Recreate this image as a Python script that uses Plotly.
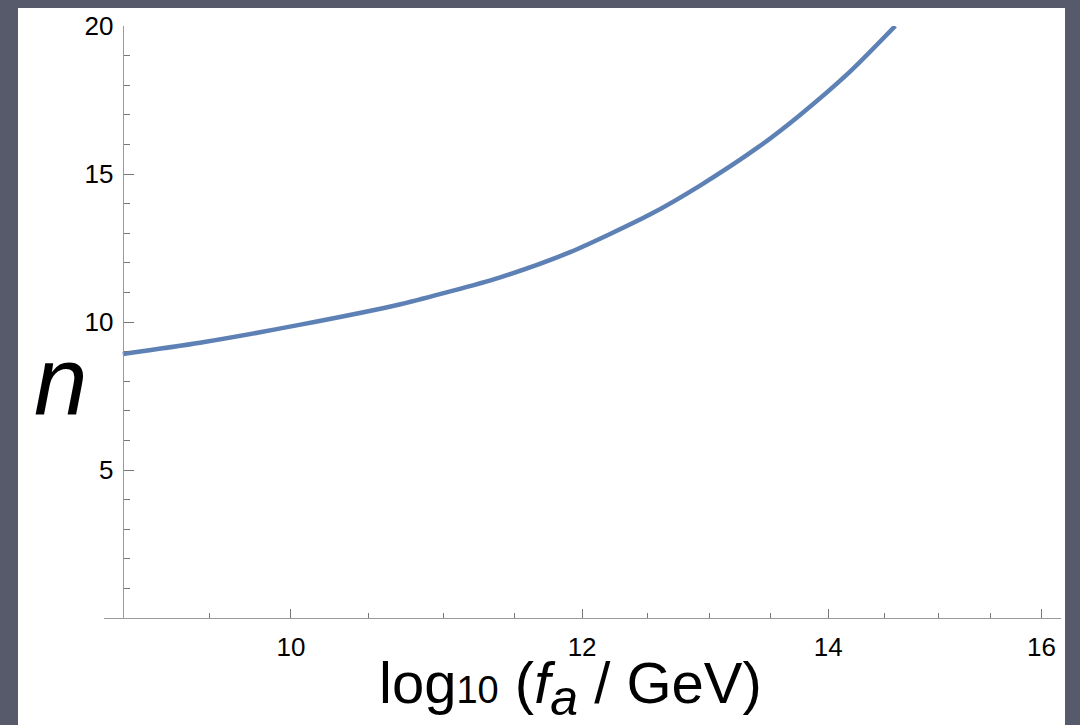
import plotly.graph_objects as go
import math

# ---- data ----
log_fa = [9.0, 9.446, 10.06, 10.71, 11.40, 11.91, 12.52, 12.92, 13.39, 13.75, 14.19, 14.60]
n_vals = [8.92, 9.30, 9.91, 10.60, 11.51, 12.36, 13.63, 14.61, 15.88, 16.98, 18.45, 20.0]

x_major = [10, 12, 14, 16]
x_minor = [9.5, 10.5, 11, 11.5, 12.5, 13, 13.5, 14.5, 15, 15.5]
y_major = [5, 10, 15, 20]
y_minor = [0, 1, 2, 3, 4, 6, 7, 8, 9, 11, 12, 13, 14, 16, 17, 18, 19]

x_lo, x_hi = 8.895, 16.197
y_axis_at = 9.0

# ---- layout geometry (pixels) ----
W, H = 1080, 725
L, R, T, B = 104, 1061, 26, 618

def pxx(px):
    return (px - L) / (R - L)

def pxy(py):
    return (B - py) / (B - T)

yaxis_pos = (math.log10(y_axis_at) - math.log10(x_lo)) / (math.log10(x_hi) - math.log10(x_lo))

FONT = "Liberation Sans, Arial, sans-serif"
tick_font = dict(family=FONT, size=26, color="black")

fig = go.Figure()
fig.add_trace(go.Scatter(
    x=log_fa, y=n_vals, mode="lines",
    line=dict(color="#5e81b5", width=4.5, shape="spline", smoothing=0.7),
    hoverinfo="skip", showlegend=False,
))

title_text = ("log<span style='font-size:38px'>10</span> (<i>f</i>"
              "<sub><i><span style='font-size:50px'>a</span></i></sub> / GeV)")

fig.update_layout(
    width=W, height=H,
    margin=dict(l=L, r=W - R, t=T, b=H - B, pad=0),
    paper_bgcolor="rgb(86,90,106)",
    plot_bgcolor="rgba(0,0,0,0)",
    showlegend=False,
    xaxis=dict(
        type="log", range=[math.log10(x_lo), math.log10(x_hi)],
        tickmode="array", tickvals=x_major, ticktext=[str(v) for v in x_major],
        ticks="inside", ticklen=9, tickwidth=1, tickcolor="#777777",
        showline=True, linecolor="#9a9a9a", linewidth=1.2,
        showgrid=False, zeroline=False,
        tickfont=tick_font, ticklabelstandoff=6,
        minor=dict(tickmode="array", tickvals=x_minor, ticks="inside",
                   ticklen=5, tickwidth=1, tickcolor="#777777", showgrid=False),
    ),
    yaxis=dict(
        range=[0, 20], anchor="free", position=yaxis_pos,
        tickmode="array", tickvals=y_major, ticktext=[str(v) for v in y_major],
        ticks="inside", ticklen=10, tickwidth=1, tickcolor="#777777",
        showline=True, linecolor="#9a9a9a", linewidth=1.2,
        showgrid=False, zeroline=False,
        tickfont=tick_font, ticklabelstandoff=4,
        minor=dict(tickmode="array", tickvals=y_minor, ticks="inside",
                   ticklen=6, tickwidth=1, tickcolor="#777777", showgrid=False),
    ),
    shapes=[dict(
        type="rect", xref="paper", yref="paper",
        x0=pxx(18), x1=pxx(1065), y0=pxy(725), y1=pxy(8),
        fillcolor="white", line=dict(width=0), layer="below",
    )],
    annotations=[
        dict(text=title_text,
             xref="paper", yref="paper", x=pxx(570), y=pxy(688),
             xanchor="center", yanchor="middle", showarrow=False,
             font=dict(family=FONT, size=58, color="black")),
        dict(text="<i>n</i>",
             xref="paper", yref="paper", x=pxx(60), y=pxy(380),
             xanchor="center", yanchor="middle", showarrow=False,
             font=dict(family=FONT, size=96, color="black")),
    ],
)

fig.write_html("out.html")
